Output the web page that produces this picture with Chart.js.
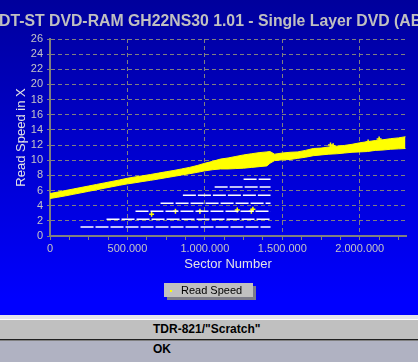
<!DOCTYPE html>
<html><head><meta charset="utf-8">
<script src="https://cdn.jsdelivr.net/npm/chart.js@4.4.0/dist/chart.umd.min.js"></script>
<style>
html,body{margin:0;padding:0;width:418px;height:362px;overflow:hidden;background:#B0B2C2;}
#wrap{position:absolute;left:0;top:0;width:418px;height:315px;overflow:hidden;background:linear-gradient(to bottom,#00009C 0px,#0000FF 300px,#0000FF 315px);}
#title{position:absolute;left:-1px;top:11px;white-space:nowrap;font:bold 15.8px "Liberation Sans",Arial,sans-serif;color:#C0C0C0;line-height:20px;}
canvas{position:absolute;left:0;top:0;}
#legend{position:absolute;left:164px;top:283px;width:89px;height:14px;background:#C0C0C0;box-shadow:3px 3px 0 #7C7C8A;font:11px "Liberation Sans",Arial,sans-serif;color:#000;line-height:14px;}
#ldot{position:absolute;left:6px;top:7px;width:2px;height:2px;background:#FFFF00;}
#ltext{position:absolute;left:17px;top:0;}
.band{position:absolute;left:0;width:418px;}
.lbl{position:absolute;left:153px;font:bold 12px "Liberation Sans",Arial,sans-serif;color:#000;white-space:nowrap;}
</style></head>
<body>
<div id="wrap">
  <canvas id="c" width="418" height="315"></canvas>
  <div id="title">DT-ST DVD-RAM GH22NS30 1.01 - Single Layer DVD (AB</div>
  <div id="legend"><span id="ldot"></span><span id="ltext">Read Speed</span></div>
</div>
<div class="band" style="top:315px;height:4px;background:#E4E4EC"></div>
<div class="band" style="top:319px;height:1px;background:#FFFFFF"></div>
<div class="band" style="top:320px;height:19px;background:#C0C0C0"></div>
<div class="band" style="top:339px;height:1px;background:#202020"></div>
<div class="band" style="top:340px;height:1px;background:#808080"></div>
<div class="band" style="top:341px;height:21px;background:#B0B2C2"></div>
<div class="lbl" style="top:320px;line-height:19px;">TDR-821/"Scratch"</div>
<div class="lbl" style="top:341px;line-height:16px;">OK</div>
<script>
// ---- data ----
const bandSectors = [0,50000,100000,150000,200000,250000,300000,350000,400000,450000,500000,550000,600000,650000,700000,750000,800000,850000,900000,950000,1000000,1050000,1100000,1150000,1200000,1250000,1300000,1350000,1400000,1420000,1450000,1500000,1550000,1600000,1650000,1700000,1750000,1800000,1850000,1900000,1950000,2000000,2050000,2100000,2150000,2200000,2250000,2295000];
const bandLow  = [4.95,5.12,5.3,5.5,5.7,5.9,6.1,6.3,6.5,6.7,6.88,7.03,7.2,7.35,7.52,7.7,7.87,8.05,8.22,8.4,8.6,8.75,8.85,8.85,8.9,8.95,9.05,9.15,9.25,9.6,9.95,10.05,10.1,10.25,10.4,10.6,10.7,10.8,10.85,10.95,11.05,11.1,11.15,11.3,11.35,11.45,11.5,11.55];
const bandHigh = [5.6,5.8,6.0,6.2,6.4,6.6,6.8,7.0,7.2,7.4,7.62,7.8,7.95,8.12,8.3,8.48,8.65,8.85,9.05,9.3,9.6,9.85,10.15,10.3,10.5,10.7,10.85,11.0,11.1,11.15,10.8,10.95,11.05,11.1,11.3,11.55,11.6,11.75,11.85,11.95,12.1,12.3,12.45,12.6,12.7,12.85,12.95,13.1];
const markerSectors = [656000,810000,968000,1209000,1300000,1310000,1811000,1828000,2054000,2125000];
const markerSpeeds  = [2.87,3.26,3.26,3.43,3.26,3.52,12.0,11.9,12.4,12.8];
const levelSpeeds = [1.19,2.2,3.26,4.32,5.38,6.47,7.49];
const levelStarts = [197000,365000,552000,714000,858000,1063000,1250000];
const levelEnd = 1424000;
const xTickValues = [0,125000,250000,375000,500000,625000,750000,875000,1000000,1125000,1250000,1375000,1500000,1625000,1750000,1875000,2000000,2125000,2250000];
const xLabelValues = [0,500000,1000000,1500000,2000000];
const yTickValues = [0,2,4,6,8,10,12,14,16,18,20,22,24,26];
const xMax = 2298496;
const yMax = 26;

const toXY = (xs, ys) => xs.map((x, i) => ({x: x, y: ys[i]}));
const fmt = v => String(v).replace(/\B(?=(\d{3})+(?!\d))/g, '.');
const FONT = "'Liberation Sans', Arial, sans-serif";
Chart.defaults.font.family = FONT;

const datasets = [
  {type:'line', label:'Read Speed (low)', data:toXY(bandSectors, bandLow), borderColor:'#FFFF00', borderWidth:1, pointRadius:0, fill:false, tension:0},
  {type:'line', label:'Read Speed', data:toXY(bandSectors, bandHigh), borderColor:'#FFFF00', backgroundColor:'#FFFF00', borderWidth:1, pointRadius:0, fill:'-1', tension:0}
];
levelSpeeds.forEach((v, i) => {
  datasets.push({type:'line', label:'level ' + i, data:[{x:levelStarts[i], y:v}, {x:levelEnd, y:v}], borderColor:'#FFFFFF', borderWidth:1.5, borderDash:[13,2], pointRadius:0, fill:false});
});
datasets.push({type:'scatter', label:'markers', data:toXY(markerSectors, markerSpeeds), pointStyle:'cross', pointRadius:2.5, borderColor:'#FFFF00', backgroundColor:'#FFFF00', borderWidth:1.5});

new Chart(document.getElementById('c'), {
  type:'line',
  data:{datasets:datasets},
  options:{
    responsive:false, animation:false, events:[],
    layout:{padding:{left:0, top:39, right:12, bottom:0}},
    plugins:{legend:{display:false}, tooltip:{enabled:false}, title:{display:false}},
    scales:{
      x:{
        type:'linear', min:0, max:xMax,
        afterBuildTicks: s => { s.ticks = xTickValues.map(v => ({value:v})); },
        afterFit: s => { s.height = 79; },
        ticks:{autoSkip:false, maxRotation:0, minRotation:0, color:'#C4C4C4', font:{size:11}, padding:2,
               callback: v => (xLabelValues.includes(v) ? fmt(v) : '')},
        grid:{color: c => (c.tick && xLabelValues.includes(c.tick.value) ? '#808080' : 'rgba(0,0,0,0)'),
              tickColor:'#808080', tickLength:4, tickWidth:1, lineWidth:1, tickBorderDash:[]},
        border:{color:'#808080', width:2, dash:[4,3]},
        title:{display:true, text:'Sector Number', color:'#E4E4E4', font:{size:13}, padding:{top:0, bottom:43}}
      },
      y:{
        min:0, max:yMax,
        afterBuildTicks: s => { s.ticks = yTickValues.map(v => ({value:v})); },
        afterFit: s => { s.width = 50; },
        ticks:{autoSkip:false, color:'#C4C4C4', font:{size:11}, padding:4},
        grid:{color:'#808080', tickColor:'#808080', tickLength:3, tickWidth:1, lineWidth:1, tickBorderDash:[]},
        border:{color:'#808080', width:2, dash:[4,3]},
        title:{display:true, text:'Read Speed in X', color:'#E4E4E4', font:{size:13}, padding:{top:13.5, bottom:0}}
      }
    }
  }
});
</script>
</body></html>
